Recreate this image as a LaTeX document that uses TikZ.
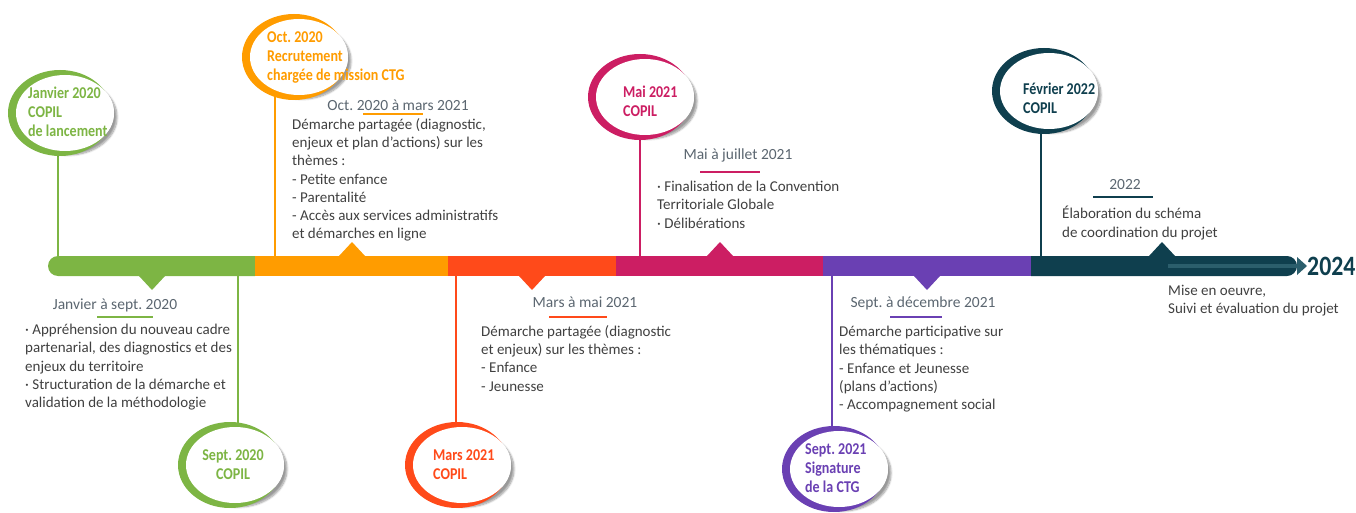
\documentclass[tikz,border=0pt]{standalone}
\usepackage{fontspec}
\setmainfont{Carlito}
\newfontfamily\jalonfont[FakeStretch=0.85]{Carlito}
\frenchspacing
\usetikzlibrary{shapes,positioning,shadows.blur}
\definecolor{cvert}{HTML}{7DB544}
\definecolor{corange}{HTML}{FF9C00}
\definecolor{crouge}{HTML}{FF4A1A}
\definecolor{crose}{HTML}{CC1E63}
\definecolor{cviolet}{HTML}{6A40B3}
\definecolor{cbleu}{HTML}{0F3F4E}
\definecolor{cfleche}{HTML}{2B5E6C}
\definecolor{ctexte}{HTML}{404040}
\definecolor{cdate}{HTML}{5B6670}
\tikzset{
  jalon/.style={font=\jalonfont\bfseries\fontsize{16.5}{19}\selectfont,align=left,anchor=west,inner sep=0pt},
  texte/.style={font=\fontsize{15}{18.3}\selectfont,text=ctexte,align=left,anchor=north west,inner sep=0pt},
  date/.style={font=\fontsize{15.5}{18}\selectfont,text=cdate,inner sep=0pt},
  tige/.style={line width=2.5pt},
  trait/.style={line width=2pt},
  ombre/.style={blur shadow={shadow xshift=3pt,shadow yshift=-4pt,shadow blur steps=8,shadow opacity=40}},
}
\newcommand\bulle[2]{%
  \fill[white,ombre] ([xshift=5pt]#1) ellipse[x radius=49,y radius=38];
  \fill[#2] (#1) ellipse[x radius=52,y radius=43];
  \fill[white] ([xshift=5pt]#1) ellipse[x radius=49,y radius=38];}

\begin{document}
\begin{tikzpicture}[x=1pt,y=1pt]
		\useasboundingbox (0,0) rectangle (1356,-513);
		\coordinate (bartop) at (0,-256);
		\coordinate (barbot) at (0,-276);
		\coordinate (b1) at (60,-113);
		\coordinate (b2) at (294,-57);
		\coordinate (b3) at (230,-465);
		\coordinate (b4) at (457,-465);
		\coordinate (b5) at (640,-97);
		\coordinate (b6) at (834,-469);
		\coordinate (b7) at (1044,-91);
		\coordinate (s1) at (58,-113);
		\coordinate (s2) at (275,-57);
		\coordinate (s3) at (238,-465);
		\coordinate (s4) at (456,-465);
		\coordinate (s5) at (640,-97);
		\coordinate (s6) at (832,-469);
		\coordinate (s7) at (1041,-91);
		% frise
		\fill[cvert] (255,-256) -- (58,-256) arc[start angle=90,end angle=270,radius=10] -- (255,-276) -- cycle;
		\fill[corange] (255,-256) rectangle (448,-276);
		\fill[crouge] (448,-256) rectangle (616,-276);
		\fill[crose] (616,-256) rectangle (823,-276);
		\fill[cviolet] (823,-256) rectangle (1031,-276);
		\fill[cbleu] (1031,-256) -- (1287,-256) arc[start angle=90,end angle=-90,radius=10] -- (1031,-276) -- cycle;
		\fill[cvert] (139,-276) -- (152,-290) -- (165,-276) -- cycle;
		\fill[corange] (339,-256) -- (352,-242) -- (365,-256) -- cycle;
		\fill[crouge] (519,-276) -- (532,-290) -- (545,-276) -- cycle;
		\fill[crose] (707,-256) -- (720,-242) -- (733,-256) -- cycle;
		\fill[cviolet] (914,-276) -- (927,-290) -- (940,-276) -- cycle;
		\fill[cbleu] (1149,-256) -- (1162,-242) -- (1175,-256) -- cycle;
		\draw[cfleche,line width=4pt] (1168,-266) -- (1297,-266);
		\fill[cfleche] (1297,-257) -- (1307,-266) -- (1297,-275) -- cycle;
		\node[jalon,text=cbleu,font=\jalonfont\bfseries\fontsize{28}{30}\selectfont] (fin) at (1307,-266) {2024};
		% tiges
		\draw[tige,cvert] (s1) -- (s1 |- bartop);
		\draw[tige,corange] (s2) -- (s2 |- bartop);
		\draw[tige,cvert] (s3) -- (s3 |- barbot);
		\draw[tige,crouge] (s4) -- (s4 |- barbot);
		\draw[tige,crose] (s5) -- (s5 |- bartop);
		\draw[tige,cviolet] (s6) -- (s6 |- barbot);
		\draw[tige,cbleu] (s7) -- (s7 |- bartop);
		% bulles
		\bulle{b1}{cvert}
		\bulle{b2}{corange}
		\bulle{b3}{cvert}
		\bulle{b4}{crouge}
		\bulle{b5}{crose}
		\bulle{b6}{cviolet}
		\bulle{b7}{cbleu}
		\node[jalon,text=cvert] (janv20) at (28,-112) {Janvier 2020\\COPIL\\de lancement};
		\node[jalon,text=corange] (oct20) at (267,-57) {Oct. 2020\\Recrutement\\chargée de mission CTG};
		\node[jalon,text=cvert,align=center,anchor=center] (sept20) at (233,-465) {Sept. 2020\\COPIL};
		\node[jalon,text=crouge] (mars21) at (433,-465) {Mars 2021\\COPIL};
		\node[jalon,text=crose] (mai21) at (623,-101) {Mai 2021\\COPIL};
		\node[jalon,text=cviolet] (sept21) at (805,-468) {Sept. 2021\\Signature\\de la CTG};
		\node[jalon,text=cbleu] (fev22) at (1023,-98) {Février 2022\\COPIL};
		% periodes
		\node[date] (d1) at (115,-305) {Janvier à sept. 2020};
		\draw[trait,cvert] (97,-317) -- (153,-317);
		\node[texte] (t1) at (25,-324) {· Appréhension du nouveau cadre\\partenarial, des diagnostics et des\\enjeux du territoire\\· Structuration de la démarche et\\validation de la méthodologie};
		\node[date] (d2) at (398,-105) {Oct. 2020 à mars 2021};
		\draw[trait,corange] (363,-114) -- (423,-114);
		\node[texte] (t2) at (292,-118) {Démarche partagée (diagnostic,\\enjeux et plan d’actions) sur les\\thèmes :\\- Petite enfance\\- Parentalité\\- Accès aux services administratifs\\et démarches en ligne};
		\node[date] (d3) at (585,-302) {Mars à mai 2021};
		\draw[trait,crouge] (549,-317) -- (607,-317);
		\node[texte] (t3) at (481,-325) {Démarche partagée (diagnostic\\et enjeux) sur les thèmes :\\- Enfance\\- Jeunesse};
		\node[date] (d4) at (738,-155) {Mai à juillet 2021};
		\draw[trait,crose] (700,-172) -- (760,-172);
		\node[texte] (t4) at (657,-181) {· Finalisation de la Convention\\Territoriale Globale\\· Délibérations};
		\node[date] (d5) at (923,-303) {Sept. à décembre 2021};
		\draw[trait,cviolet] (890,-317) -- (942,-317);
		\node[texte] (t5) at (839,-326) {Démarche participative sur\\les thématiques :\\- Enfance et Jeunesse\\(plans d’actions)\\- Accompagnement social};
		\node[date] (d6) at (1125,-185) {2022};
		\draw[trait,cbleu] (1093,-197) -- (1153,-197);
		\node[texte] (t6) at (1062,-206) {Élaboration du schéma\\de coordination du projet};
		\node[texte] (t7) at (1168,-285) {Mise en oeuvre,\\Suivi et évaluation du projet};
		\end{tikzpicture}
\end{document}
